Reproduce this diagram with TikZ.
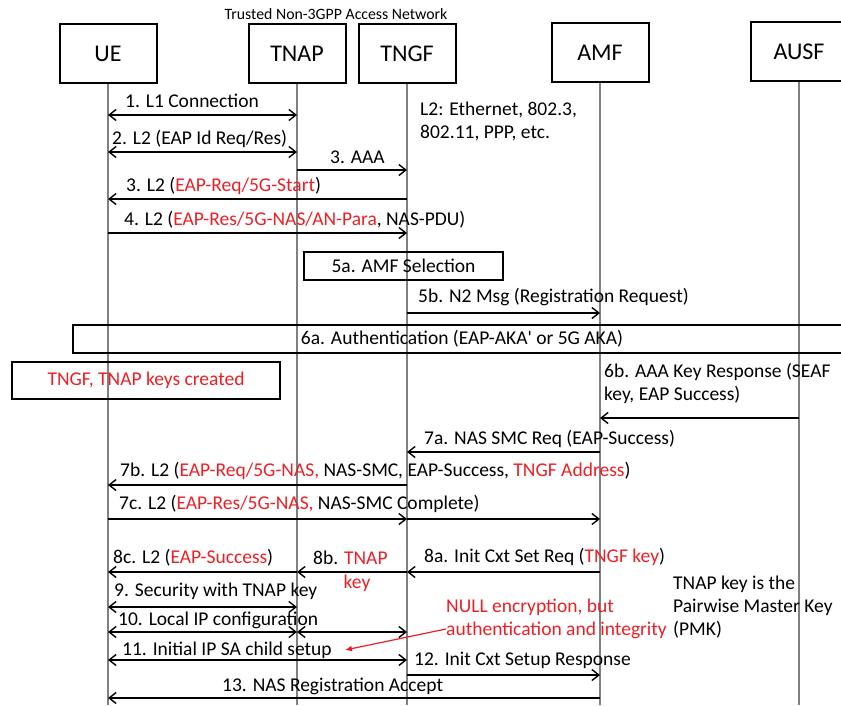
\documentclass[tikz,border=0pt]{standalone}
\usepackage{fontspec}
\setmainfont{Carlito}
\usetikzlibrary{arrows.meta}
\definecolor{keyred}{RGB}{235,32,38}

\begin{document}
\begin{tikzpicture}[x=1pt, y=-1pt,
    head/.style={draw, line width=2pt, minimum width=97pt, minimum height=59pt,
                 font=\fontsize{24}{27}\selectfont},
    life/.style={gray, line width=2.6pt},
    msg/.style={-{Straight Barb[length=7pt,width=11pt]}, line width=1.4pt},
    both/.style={{Straight Barb[length=7pt,width=11pt]}-{Straight Barb[length=7pt,width=11pt]},
                 line width=1.4pt},
    lbl/.style={anchor=west, inner sep=0pt, align=left,
                font=\fontsize{19.5}{23}\selectfont},
    stepbox/.style={draw, line width=2pt, inner sep=0pt,
                    font=\fontsize{19.5}{23}\selectfont},
]

    \clip (0,0) rectangle (841,705);

    % ── Entities ─────────────────────────────────────────────────────────────
    \node[head] (UE)   at (108,53.5) {UE};
    \node[head] (TNAP) at (297,53.5) {TNAP};
    \node[head] (TNGF) at (407,53.5) {TNGF};
    \node[head] (AMF)  at (600,52.5) {AMF};
    \node[head] (AUSF) at (799,51.5) {AUSF};

    \node[font=\fontsize{15.8}{18}\selectfont] (title) at (336,14)
        {Trusted Non-3GPP Access Network};

    % ── Lifelines ────────────────────────────────────────────────────────────
    \foreach \n in {UE,TNAP,TNGF,AMF,AUSF}
        \draw[life] (\n.south) -- (\n |- 0,705);

    % ── Steps 1 - 4 ──────────────────────────────────────────────────────────
    \draw[both] (UE |- 0,115) -- (TNAP |- 0,115);
    \node[lbl] (m1) at (125,101) {1. L1 Connection};

    \draw[both] (UE |- 0,152) -- (TNAP |- 0,152);
    \node[lbl] (m2) at (112,139) {2. L2 (EAP Id Req/Res)};

    \node[lbl] (l2note) at (420,121.5) {L2: Ethernet, 802.3,\\802.11, PPP, etc.};

    \draw[msg] (TNAP |- 0,170) -- (TNGF |- 0,170);
    \node[lbl] (m3a) at (330,157) {3. AAA};

    \draw[msg] (TNGF |- 0,199) -- (UE |- 0,199);
    \node[lbl] (m3b) at (126,186) {3. L2 (\textcolor{keyred}{EAP-Req/5G-Start})};

    \draw[msg] (UE |- 0,233) -- (TNGF |- 0,233);
    \node[lbl] (m4) at (124,220)
        {4. L2 (\textcolor{keyred}{EAP-Res/5G-NAS/AN-Para}, NAS-PDU)};

    % ── Steps 5 - 6 ──────────────────────────────────────────────────────────
    \node[stepbox, minimum width=199pt, minimum height=28pt] (s5a) at (403.5,266)
        {5a. AMF Selection};

    \draw[msg] (TNGF |- 0,313) -- (AMF |- 0,313);
    \node[lbl] (m5b) at (418,297) {5b. N2 Msg (Registration Request)};

    \node[stepbox, minimum width=778pt, minimum height=28pt] (s6a) at (462,339)
        {6a. Authentication (EAP-AKA\textquotesingle{} or 5G AKA)};

    \node[stepbox, minimum width=268pt, minimum height=37pt, text=keyred] (keys)
        at (146,380.5) {TNGF, TNAP keys created};

    \draw[msg] (AUSF |- 0,418) -- (AMF |- 0,418);
    \node[lbl] (m6b) at (604,383) {6b. AAA Key Response (SEAF\\key, EAP Success)};

    % ── Step 7 ───────────────────────────────────────────────────────────────
    \draw[msg] (AMF |- 0,452) -- (TNGF |- 0,452);
    \node[lbl] (m7a) at (424,439) {7a. NAS SMC Req (EAP-Success)};

    \draw[msg] (TNGF |- 0,485) -- (UE |- 0,485);
    \node[lbl] (m7b) at (120,471) {7b. L2 (\textcolor{keyred}{EAP-Req/5G-NAS,} NAS-SMC,
        EAP-Success, \textcolor{keyred}{TNGF Address})};

    \draw[msg] (UE |- 0,519) -- (TNGF |- 0,519);
    \draw[msg] (TNGF |- 0,519) -- (AMF |- 0,519);
    \node[lbl] (m7c) at (119,504)
        {7c. L2 (\textcolor{keyred}{EAP-Res/5G-NAS,} NAS-SMC Complete)};

    % ── Step 8 ───────────────────────────────────────────────────────────────
    \draw[msg] (AMF |- 0,572) -- (TNGF |- 0,572);
    \node[lbl] (m8a) at (424,557) {8a. Init Cxt Set Req (\textcolor{keyred}{TNGF key})};

    \draw[msg] (TNGF |- 0,572) -- (TNAP |- 0,572);
    \node[lbl] (m8b) at (313,558) {8b. \textcolor{keyred}{TNAP}};
    \node[lbl, anchor=center, text=keyred] (m8bkey) at (357,583) {key};

    \draw[msg] (TNAP |- 0,572) -- (UE |- 0,572);
    \node[lbl] (m8c) at (113,558) {8c. L2 (\textcolor{keyred}{EAP-Success})};

    \node[lbl] (pmk) at (673,607.5)
        {TNAP key is the\\Pairwise Master Key\\(PMK)};

    % ── Steps 9 - 13 ─────────────────────────────────────────────────────────
    \draw[both] (UE |- 0,607) -- (TNAP |- 0,607);
    \node[lbl] (m9) at (114,591) {9. Security with TNAP key};

    \draw[both] (UE |- 0,632) -- (TNAP |- 0,632);
    \draw[both] (TNAP |- 0,632) -- (TNGF |- 0,632);
    \node[lbl] (m10) at (118,620) {10. Local IP configuration};

    \draw[both] (UE |- 0,660) -- (TNGF |- 0,660);
    \node[lbl] (m11) at (122,650) {11. Initial IP SA child setup};

    \node[lbl, text=keyred] (null) at (446,619)
        {NULL encryption, but\\authentication and integrity};
    \draw[keyred, line width=1.2pt, -{Latex[length=7pt,width=6pt]}]
        (null.west |- 0,629) -- (345,650);

    \draw[msg] (TNGF |- 0,675) -- (AMF |- 0,675);
    \node[lbl] (m12) at (414,660) {12. Init Cxt Setup Response};

    \draw[msg] (AMF |- 0,698) -- (UE |- 0,698);
    \node[lbl] (m13) at (222,686) {13. NAS Registration Accept};

\end{tikzpicture}
\end{document}
